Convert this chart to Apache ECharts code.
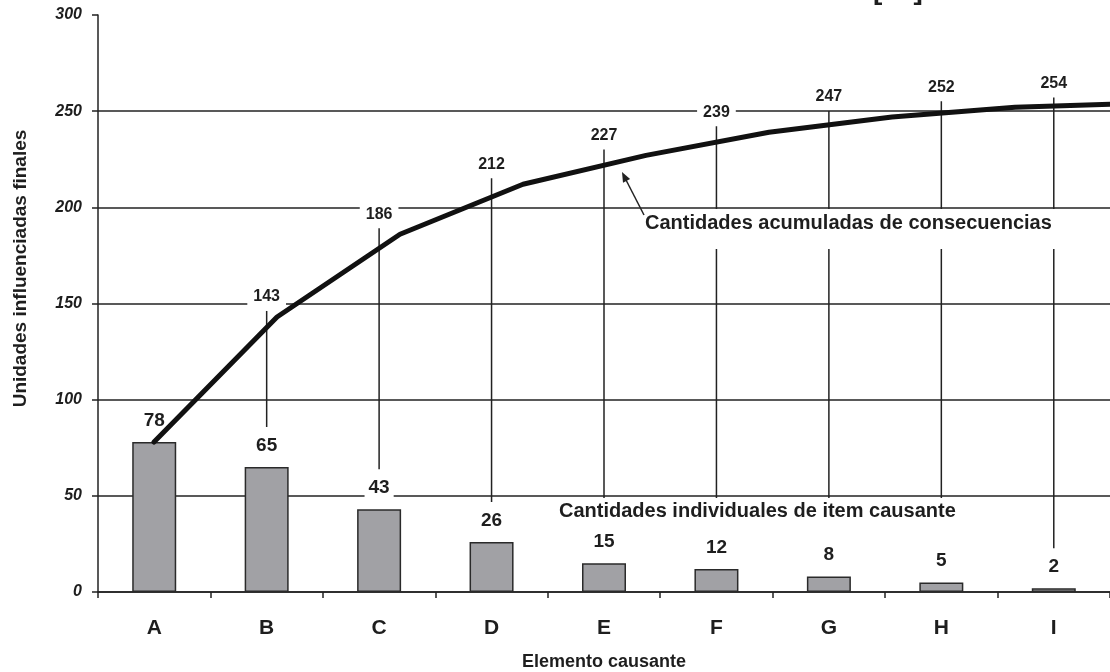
<!DOCTYPE html>
<html>
<head>
<meta charset="utf-8">
<style>
  html, body { margin: 0; padding: 0; background: #fff; }
  #chart { width: 1110px; height: 672px; }
</style>
<script src="https://cdn.jsdelivr.net/npm/echarts@6/dist/echarts.min.js"></script>
</head>
<body>
<div id="chart"></div>
<script>
var categories = ['A', 'B', 'C', 'D', 'E', 'F', 'G', 'H', 'I']
var individualValues = [78, 65, 43, 26, 15, 12, 8, 5, 2]
var cumulativeValues = [78, 143, 186, 212, 227, 239, 247, 252, 254]
var yTicks = [0, 50, 100, 150, 200, 250, 300]

var FONT = '"Liberation Sans", Arial, sans-serif'
var INK = '#1e1e1e'

var chart = echarts.init(document.getElementById('chart'))

// leader lines + cumulative labels, one per category (A has none)
var leaderData = []
for (var i = 0; i < categories.length; i++) {
  leaderData.push([i, cumulativeValues[i], individualValues[i]])
}

function renderLeader(params, api) {
  var idx = api.value(0)
  if (idx === 0) return
  var cum = api.value(1)
  var top = api.coord([idx, cum])
  var bar = api.coord([idx, api.value(2)])
  var labelY = top[1] - 20
  return {
    type: 'group',
    children: [
      {
        type: 'line',
        shape: { x1: top[0], y1: labelY + 14, x2: top[0], y2: bar[1] - 40 },
        style: { stroke: '#222', lineWidth: 1.5 }
      },
      {
        type: 'text',
        x: top[0],
        y: labelY,
        style: {
          text: String(cum),
          font: 'bold 16px ' + FONT,
          fill: INK,
          align: 'center',
          verticalAlign: 'middle',
          backgroundColor: '#fff',
          padding: [2, 6]
        }
      }
    ]
  }
}

var gridTop = 15
var gridBottom = 80

chart.setOption({
  animation: false,
  backgroundColor: '#fff',
  textStyle: { fontFamily: FONT },
  grid: [
    { left: 98, right: 0, top: gridTop, bottom: gridBottom, outerBoundsMode: 'none' },
    // the cumulative curve runs on its own wider spacing and is cut by the page edge
    { left: 154, right: -28, top: gridTop, bottom: gridBottom, outerBoundsMode: 'none' }
  ],
  xAxis: [
    {
      type: 'category',
      gridIndex: 0,
      data: categories,
      name: 'Elemento causante',
      nameLocation: 'middle',
      nameGap: 61,
      nameTextStyle: { fontSize: 18, fontWeight: 'bold', color: INK, fontFamily: FONT },
      axisLine: { lineStyle: { color: '#222', width: 1.5 } },
      axisTick: { show: true, length: 6, lineStyle: { color: '#222', width: 1.5 } },
      axisLabel: { margin: 26, fontSize: 21, fontWeight: 'bold', color: INK, fontFamily: FONT },
      splitLine: { show: false }
    },
    {
      type: 'category',
      gridIndex: 1,
      data: categories,
      boundaryGap: false,
      show: false
    }
  ],
  yAxis: [
    {
      type: 'value',
      gridIndex: 0,
      min: yTicks[0],
      max: yTicks[yTicks.length - 1],
      interval: 50,
      name: 'Unidades influenciadas finales',
      nameLocation: 'middle',
      nameGap: 68,
      nameTextStyle: { fontSize: 19, fontWeight: 'bold', color: INK, fontFamily: FONT, padding: [0, 0, 0, 70] },
      axisLine: { show: true, lineStyle: { color: '#222', width: 1.5 } },
      axisTick: { show: true, length: 6, lineStyle: { color: '#222', width: 1.5 } },
      axisLabel: { margin: 16, fontSize: 16, fontWeight: 'bold', fontStyle: 'italic', color: INK, fontFamily: FONT },
      splitLine: {
        show: true,
        lineStyle: { color: ['#222', '#222', '#222', '#222', '#222', '#222', 'rgba(0,0,0,0)'], width: 1.5 }
      }
    },
    {
      type: 'value',
      gridIndex: 1,
      min: yTicks[0],
      max: yTicks[yTicks.length - 1],
      show: false,
      splitLine: { show: false }
    }
  ],
  graphic: [
    {
      type: 'text',
      x: 873,
      y: 5,
      z: 5,
      style: { text: '[13]', font: 'bold 28px ' + FONT, fill: INK, verticalAlign: 'bottom' }
    },
    {
      type: 'text',
      x: 641,
      y: 209,
      z: 1.5,
      style: {
        text: 'Cantidades acumuladas de consecuencias',
        font: 'bold 20px ' + FONT,
        fill: INK,
        verticalAlign: 'top',
        backgroundColor: '#fff',
        padding: [4, 4, 16, 4]
      }
    },
    {
      type: 'text',
      x: 555,
      y: 498,
      z: 1.5,
      style: {
        text: 'Cantidades individuales de item causante',
        font: 'bold 20px ' + FONT,
        fill: INK,
        verticalAlign: 'top',
        backgroundColor: '#fff',
        padding: [3, 4, 26, 4]
      }
    },
    {
      type: 'line',
      z: 5,
      shape: { x1: 644, y1: 215, x2: 625, y2: 178 },
      style: { stroke: '#222', lineWidth: 1.5 }
    },
    {
      type: 'polygon',
      z: 5,
      shape: { points: [[622, 172], [630.1, 179.1], [623.0, 182.7]] },
      style: { fill: '#222' }
    }
  ],
  series: [
    {
      name: 'Cantidades individuales',
      type: 'bar',
      xAxisIndex: 0,
      yAxisIndex: 0,
      z: 2,
      data: individualValues,
      barWidth: 44,
      itemStyle: { color: '#a1a1a5', borderColor: '#2a2a2a', borderWidth: 1.5 },
      label: {
        show: true,
        position: 'top',
        distance: 11,
        fontSize: 19,
        fontWeight: 'bold',
        fontFamily: FONT,
        color: INK,
        backgroundColor: '#fff',
        padding: [1, 4]
      }
    },
    {
      name: 'Guias',
      type: 'custom',
      xAxisIndex: 0,
      yAxisIndex: 0,
      z: 1,
      data: leaderData,
      encode: { x: 0, y: 1 },
      renderItem: renderLeader,
      silent: true
    },
    {
      name: 'Cantidades acumuladas',
      type: 'line',
      xAxisIndex: 1,
      yAxisIndex: 1,
      z: 4,
      data: cumulativeValues,
      showSymbol: false,
      symbol: 'none',
      lineStyle: { color: '#111', width: 5, join: 'round', cap: 'round' }
    }
  ]
})
</script>
</body>
</html>
